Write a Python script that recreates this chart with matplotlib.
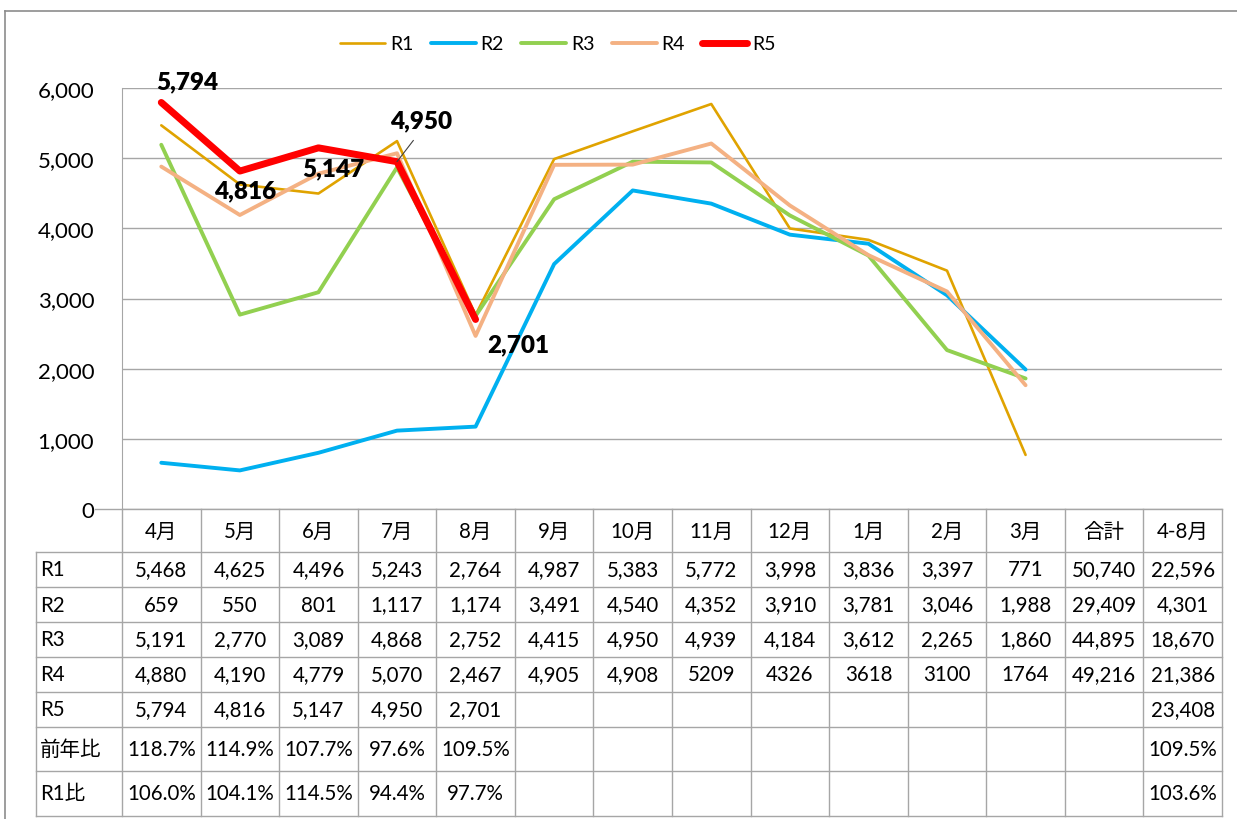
import matplotlib
matplotlib.use("Agg")
import matplotlib.pyplot as plt
from matplotlib.lines import Line2D

plt.rcParams['font.family'] = ['Lato', 'Noto Sans CJK JP', 'DejaVu Sans']

# --- data ---
months = ['4月', '5月', '6月', '7月', '8月', '9月', '10月', '11月', '12月', '1月', '2月', '3月']
extra_cols = ['合計', '4-8月']

r1 = [5468, 4625, 4496, 5243, 2764, 4987, 5383, 5772, 3998, 3836, 3397, 771]
r2 = [659, 550, 801, 1117, 1174, 3491, 4540, 4352, 3910, 3781, 3046, 1988]
r3 = [5191, 2770, 3089, 4868, 2752, 4415, 4950, 4939, 4184, 3612, 2265, 1860]
r4 = [4880, 4190, 4779, 5070, 2467, 4905, 4908, 5209, 4326, 3618, 3100, 1764]
r5 = [5794, 4816, 5147, 4950, 2701]

totals = {'R1': (50740, 22596), 'R2': (29409, 4301), 'R3': (44895, 18670),
          'R4': (49216, 21386), 'R5': (None, 23408)}
yoy = [118.7, 114.9, 107.7, 97.6, 109.5]      # 前年比
yoy_48 = 109.5
vs_r1 = [106.0, 104.1, 114.5, 94.4, 97.7]     # R1比
vs_r1_48 = 103.6
r4_plain = [7, 8, 9, 10, 11]   # R4 cells shown without thousands separator

series = [('R1', r1, '#E0A300', 1.9), ('R2', r2, '#00B0F0', 2.8),
          ('R3', r3, '#92D050', 2.8), ('R4', r4, '#F4B183', 2.8),
          ('R5', r5, '#FF0000', 5.0)]

# --- layout ---
W, H = 1237, 820
fig = plt.figure(figsize=(W / 100, H / 100), dpi=100)


def px(x0, y0, x1, y1):
    return [x0 / W, 1 - y1 / H, (x1 - x0) / W, (y1 - y0) / H]


grid_c = '#a6a6a6'
ncol = len(months) + len(extra_cols)

ax = fig.add_axes(px(122, 89, 1222, 510))
ax.set_xlim(-0.5, ncol - 0.5)
ax.set_ylim(0, 6000)
ax.set_yticks(range(0, 6001, 1000))
ax.set_yticklabels([f'{v:,}' for v in range(0, 6001, 1000)], fontsize=16)
ax.tick_params(axis='y', length=0, pad=20)
ax.set_xticks([])
ax.grid(axis='y', color=grid_c, lw=1)
ax.set_axisbelow(True)
for s in ['top', 'right', 'bottom']:
    ax.spines[s].set_visible(False)
ax.spines['left'].set_color(grid_c)

for name, vals, col, lw in series:
    ax.plot(range(len(vals)), vals, color=col, lw=lw, label=name,
            solid_capstyle='round', solid_joinstyle='round', clip_on=False)

# R5 data labels (offsets in points)
offsets = [(19, 15), (4, -14), (11, -15), (17, 30), (31, -18)]
for i, v in enumerate(r5):
    dx, dy = offsets[i]
    kw = {}
    if i == 3:
        kw['arrowprops'] = dict(arrowstyle='-', color='#404040', lw=0.8,
                                relpos=(0.5, 0), shrinkA=6, shrinkB=0)
    ax.annotate(f'{v:,}', (i, v), xytext=(dx, dy), textcoords='offset points',
                ha='center', va='center', fontsize=17.5, fontweight='heavy', **kw)

fig.legend(loc='center', bbox_to_anchor=(558 / W, 1 - 45 / H), ncol=5,
           frameon=False, fontsize=14, handlelength=2.3, handletextpad=0.25,
           columnspacing=0.9)

# --- data table ---
row_names = ['R1', 'R2', 'R3', 'R4', 'R5', '前年比', 'R1比']
row_edges = [0, 43, 78, 113, 148, 183, 218, 262, 307]

tab = fig.add_axes(px(122, 510, 1222, 817))
tab.set_xlim(-0.5, ncol - 0.5)
tab.set_ylim(row_edges[-1], 0)
tab.axis('off')

label_left = -0.5 - 86 / (1100 / ncol)
tick_left = -0.5 - 27 / (1100 / ncol)

tab.plot([tick_left, ncol - 0.5], [0, 0], color=grid_c, lw=1, clip_on=False)
for y in row_edges[1:]:
    tab.plot([label_left, ncol - 0.5], [y, y], color=grid_c, lw=1, clip_on=False)
for k in range(ncol + 1):
    tab.plot([k - 0.5, k - 0.5], [0, row_edges[-1]], color=grid_c, lw=1, clip_on=False)
tab.plot([label_left, label_left], [row_edges[1], row_edges[-1]], color=grid_c,
         lw=1, clip_on=False)

fs = 14.8
for k, h in enumerate(months + extra_cols):
    tab.text(k, (row_edges[0] + row_edges[1]) / 2, h, ha='center', va='center', fontsize=fs)


def cell(r, k, s):
    tab.text(k, (row_edges[r + 1] + row_edges[r + 2]) / 2, s,
             ha='center', va='center', fontsize=fs, clip_on=False)


for r, name in enumerate(row_names):
    tab.text(label_left + 0.05, (row_edges[r + 1] + row_edges[r + 2]) / 2, name,
             ha='left', va='center', fontsize=fs)

for r, (name, vals, _, _) in enumerate(series):
    for k, v in enumerate(vals):
        plain = name == 'R4' and k in r4_plain
        cell(r, k, str(v) if plain else f'{v:,}')
    tot, sub = totals[name]
    if tot is not None:
        cell(r, len(months), f'{tot:,}')
    cell(r, len(months) + 1, f'{sub:,}')

for k, v in enumerate(yoy):
    cell(5, k, f'{v:.1f}%')
cell(5, len(months) + 1, f'{yoy_48:.1f}%')
for k, v in enumerate(vs_r1):
    cell(6, k, f'{v:.1f}%')
cell(6, len(months) + 1, f'{vs_r1_48:.1f}%')

# chart frame
frame_c = '#8c8c8c'
fig.add_artist(Line2D([5 / W, 5 / W], [1 - 12 / H, 0], color=frame_c, lw=1.2))
fig.add_artist(Line2D([5 / W, 1], [1 - 12 / H, 1 - 12 / H], color=frame_c, lw=1.2))

fig.savefig('out.png', dpi=100)
